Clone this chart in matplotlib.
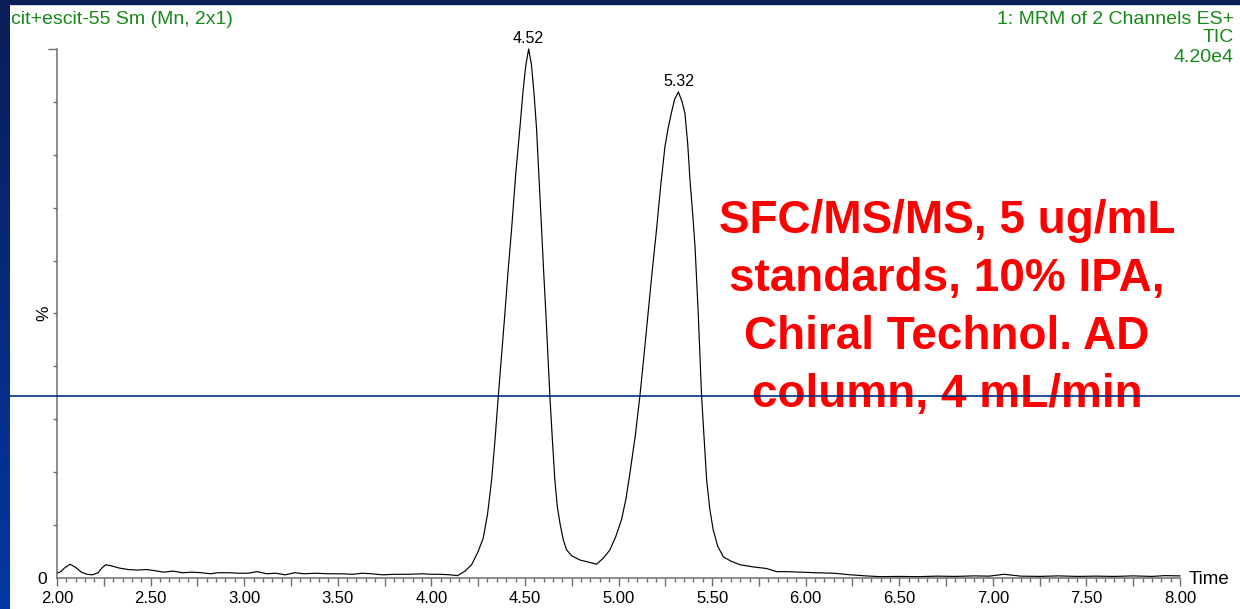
import numpy as np
import matplotlib
matplotlib.use("Agg")
import matplotlib.pyplot as plt
from matplotlib.patches import Rectangle
from matplotlib.lines import Line2D
import matplotlib.transforms as mtransforms

plt.rcParams["font.family"] = ["Liberation Sans", "DejaVu Sans"]

# TIC trace (time in min, relative intensity in %)
times = [
    2.00, 2.02, 2.04, 2.07, 2.10, 2.13, 2.16, 2.19, 2.22, 2.24, 2.26, 2.29,
    2.33, 2.38, 2.43, 2.48, 2.52, 2.57, 2.62, 2.67, 2.72, 2.77, 2.82, 2.86,
    2.92, 2.97, 3.02, 3.07, 3.12, 3.17, 3.22, 3.27, 3.32, 3.38, 3.45, 3.52,
    3.58, 3.63, 3.68, 3.74, 3.80, 3.88, 3.95, 4.00, 4.05, 4.10, 4.14, 4.18,
    4.215, 4.25, 4.277, 4.30, 4.322, 4.34, 4.357, 4.375, 4.393, 4.41, 4.429,
    4.45, 4.473, 4.49, 4.505, 4.52, 4.535, 4.55, 4.562, 4.575, 4.589, 4.60,
    4.612, 4.623, 4.634, 4.647, 4.66, 4.673, 4.687, 4.705, 4.723, 4.75, 4.794,
    4.84, 4.883, 4.92, 4.954, 4.985, 5.016, 5.04, 5.061, 5.09, 5.114, 5.136,
    5.158, 5.18, 5.203, 5.225, 5.248, 5.265, 5.283, 5.30, 5.32, 5.34, 5.355,
    5.37, 5.382, 5.396, 5.409, 5.418, 5.426, 5.435, 5.444, 5.458, 5.471, 5.488,
    5.506, 5.53, 5.56, 5.60, 5.65, 5.72, 5.79, 5.845, 5.90, 5.97, 6.05, 6.15,
    6.24, 6.32, 6.40, 6.50, 6.60, 6.70, 6.80, 6.90, 6.98, 7.06, 7.15, 7.25,
    7.35, 7.45, 7.55, 7.65, 7.75, 7.85, 7.92, 8.00,
]
intensity = [
    0.9, 1.2, 1.9, 2.6, 2.0, 1.1, 0.7, 0.6, 1.0, 1.9, 2.5, 2.3,
    1.9, 1.6, 1.5, 1.6, 1.4, 1.1, 1.3, 1.0, 1.1, 1.0, 0.8, 1.0,
    1.0, 0.9, 0.9, 1.2, 0.8, 0.9, 0.6, 1.0, 0.8, 0.9, 0.8, 0.8,
    0.7, 0.9, 0.8, 0.6, 0.7, 0.7, 0.8, 0.7, 0.7, 0.6, 0.45, 1.3,
    2.5, 5.0, 7.5, 12.0, 18.5, 26, 34, 42, 50, 58, 66,
    76, 85, 92, 97, 100, 97, 91, 85, 76, 66, 58,
    50, 42, 34, 26, 18.5, 13.5, 10.4, 7.2, 5.3, 4.2, 3.4,
    3.0, 2.6, 3.8, 5.3, 7.8, 11, 15, 19.8, 27, 34.3, 42,
    50, 58, 65.8, 74, 81.5, 85, 88, 90.5, 91.9, 90, 87.8,
    82, 75.2, 69, 62.6, 56, 50, 42, 34.3, 26, 18.5, 13,
    9.1, 6.0, 4.0, 3.2, 2.5, 2.1, 1.8, 1.2, 1.2, 1.1, 1.0, 0.9,
    0.6, 0.4, 0.25, 0.3, 0.25, 0.35, 0.3, 0.4, 0.35, 0.7, 0.35, 0.3,
    0.4, 0.3, 0.35, 0.3, 0.4, 0.3, 0.45, 0.4,
]

peak_times = [4.52, 5.32]
peak_heights = [100, 91.9]
peak_labels = ["4.52", "5.32"]

x_ticks = [2.00, 2.50, 3.00, 3.50, 4.00, 4.50, 5.00, 5.50, 6.00, 6.50, 7.00, 7.50, 8.00]

W, H = 1240, 609
fig = plt.figure(figsize=(W / 100, H / 100), dpi=100)
fig.patch.set_facecolor("white")

GREEN = "#17891a"
GREY = "#6e6e6e"

ax = fig.add_axes([57 / W, 1 - 578 / H, (1180 - 57) / W, (578 - 49) / H])
ax.plot(times, intensity, color="black", lw=0.85, clip_on=False)
ax.set_xlim(2.0, 8.0)
ax.set_ylim(0, 100)

for side in ("top", "right"):
    ax.spines[side].set_visible(False)
for side in ("left", "bottom"):
    ax.spines[side].set_color(GREY)
    ax.spines[side].set_linewidth(1.1)

quarter = np.arange(2.0, 8.001, 0.25)
ax.set_xticks(quarter)
ax.set_xticklabels([f"{t:.2f}" if any(abs(t - v) < 1e-6 for v in x_ticks) else ""
                    for t in quarter])
ax.set_xticks(np.arange(2.0, 8.001, 0.05), minor=True)
ax.tick_params(axis="x", which="major", length=6, width=1, color=GREY,
               labelsize=12, pad=3.5)
ax.tick_params(axis="x", which="minor", length=3, width=1, color=GREY)

ax.set_yticks([100])
ax.set_yticklabels([""])
ax.set_yticks(np.arange(10, 100, 10), minor=True)
ax.tick_params(axis="y", which="major", length=6.5, width=1, color=GREY)
ax.tick_params(axis="y", which="minor", length=3, width=1, color=GREY)

ytrans = mtransforms.blended_transform_factory(ax.transAxes, ax.transData)
ax.text(-0.009, -0.2, "0", transform=ytrans, ha="right", va="center", fontsize=12.5)
ax.text(-0.0115, 50, "%", transform=ytrans, ha="center", va="center",
        rotation=90, fontsize=12.5)
ax.text(1.008, -0.2, "Time", transform=ytrans, ha="left", va="center", fontsize=13.5)

for t, h, lab in zip(peak_times, peak_heights, peak_labels):
    ax.annotate(lab, (t, h), xytext=(0, 2), textcoords="offset points",
                ha="center", va="bottom", fontsize=11.5, annotation_clip=False)

ax.text(947 / W, 1 - 308 / H, "SFC/MS/MS, 5 ug/mL\nstandards, 10% IPA,\nChiral Technol. AD\ncolumn, 4 mL/min",
        transform=fig.transFigure, ha="center", va="center", color="#ff0000",
        fontsize=33, fontweight="bold", linespacing=1.42)

# header texts
fig.text(11 / W, 1 - 19 / H, "cit+escit-55 Sm (Mn, 2x1)", color=GREEN,
         fontsize=14, ha="left", va="center")
fig.text(1234 / W, 1 - 19 / H, "1: MRM of 2 Channels ES+", color=GREEN,
         fontsize=14, ha="right", va="center")
fig.text(1234 / W, 1 - 38 / H, "TIC", color=GREEN, fontsize=14, ha="right", va="center")
fig.text(1234 / W, 1 - 57 / H, "4.20e4", color=GREEN, fontsize=14, ha="right", va="center")

# slide frame: gradient strip on the left, dark band on top, blue rule
strip = fig.add_axes([0, 0, 10 / W, 1])
grad = np.linspace(0, 1, 256).reshape(-1, 1)
cmap = matplotlib.colors.LinearSegmentedColormap.from_list("frame", ["#0b1d57", "#0338a3"])
strip.imshow(grad, aspect="auto", cmap=cmap, extent=[0, 1, 0, 1], origin="upper")
strip.set_axis_off()
fig.add_artist(Rectangle((0, 1 - 4 / H), 1, 4 / H, transform=fig.transFigure,
                         color="#0b1d57", zorder=5))
fig.add_artist(Line2D([10 / W, 1], [1 - 396 / H, 1 - 396 / H], transform=fig.transFigure,
                      color="#00307f", lw=1.2, zorder=10))

fig.savefig("out.png", dpi=100)
